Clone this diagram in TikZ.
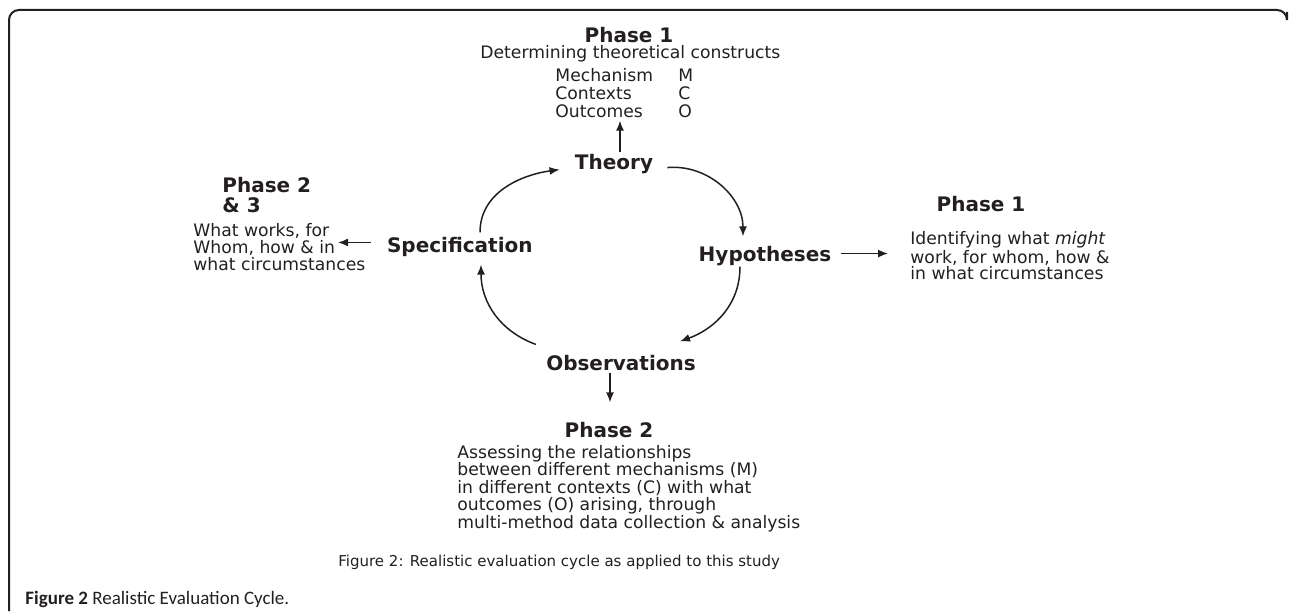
\documentclass[tikz,border=0pt]{standalone}
\usepackage{fontspec}
\setmainfont{DejaVu Sans}
\newfontfamily\capfont{Carlito}
\definecolor{inkgrey}{HTML}{231F20}
\usetikzlibrary{arrows.meta, positioning, calc}

\tikzset{
  phasehead/.style = {font = \fontsize{10}{10}\selectfont\bfseries, text = inkgrey, inner sep = 0pt},
  cyclenode/.style = {font = \fontsize{10}{12}\selectfont\bfseries, text = inkgrey, inner sep = 1pt},
  bodytext/.style = {font = \fontsize{8.6}{9}\selectfont, text = inkgrey, align = left, inner sep = 0pt},
  arr/.style = {-{Latex[length=5pt, width=4pt]}, line width = 0.75pt, draw = inkgrey},
}

\begin{document}
\begin{tikzpicture}[x = 0.5pt, y = 0.5pt]
\useasboundingbox (0,0) rectangle (1290,611);
\draw[line width = 1pt, rounded corners = 5pt, inkgrey] (9,0) -- (9,601) -- (1287,601) -- (1287,599);

\node[phasehead, anchor = base] (ph1top) at (629,568) {Phase 1};
\node[bodytext, anchor = base west] (constructs) at (480,552) {Determining theoretical constructs};
\node[bodytext, anchor = base west] (mcoterms) at (555,493) {Mechanism \\ Contexts \\ Outcomes};
\node[bodytext, anchor = base west] (mcoletters) at (678,493) {M \\ C \\ O};

\node[cyclenode, anchor = base] (theory) at (614,441) {Theory};
\node[cyclenode, anchor = base east] (spec) at (535,358) {Specification};
\node[cyclenode, anchor = base] (hyp) at (765,349) {Hypotheses};
\node[cyclenode, anchor = base] (obs) at (621,241) {Observations};

\node[phasehead, anchor = base west, align = left] (ph23) at (222,398) {Phase 2 \\ \& 3};
\node[bodytext, anchor = base west, font = \fontsize{8.6}{8.5}\selectfont] (whatworks) at (193,340) {What works, for \\ Whom, how \& in \\ what circumstances};
\coordinate (wwtip) at ($(whatworks.north west)+(145,0)$);

\node[phasehead, anchor = base] (ph1right) at (981,399) {Phase 1};
\node[bodytext, anchor = base west, font = \fontsize{8.6}{8.25}\selectfont] (ident) at (910,331) {Identifying what \textit{might} \\ work, for whom, how \& \\ in what circumstances};

\node[phasehead, anchor = base] (ph2) at (609,174) {Phase 2};
\node[bodytext, anchor = base west, font = \fontsize{8.6}{8.75}\selectfont] (assess) at (457,83) {Assessing the relationships \\ between different mechanisms (M) \\ in different contexts (C) with what \\ outcomes (O) arising, through \\ multi-method data collection \& analysis};

\node[font = \fontsize{7.5}{9}\selectfont, text = inkgrey, anchor = base west, inner sep = 0pt] (figline) at (338,45) {Figure 2: Realistic evaluation cycle as applied to this study};
\node[font = \capfont\fontsize{9.5}{11}\selectfont, text = inkgrey, anchor = base west, inner sep = 0pt] (caption) at (25,7) {\textbf{Figure 2} Realistic Evaluation Cycle.};

\draw[arr, shorten >= 1pt] ([xshift = 3pt]theory.north) -- ([xshift = 3pt]theory.north |- mcoterms.south);
\draw[arr] ([xshift = 6pt, yshift = -1.5pt]theory.east) to[out = 5, in = 90] ([xshift = -11pt, yshift = 4pt]hyp.north);
\draw[arr] ([xshift = -12.5pt, yshift = 1pt]hyp.south) to[out = -90, in = 20] ([xshift = 29.5pt, yshift = 5.5pt]obs.north);
\draw[arr] ([xshift = -4pt, yshift = 4pt]obs.north west) to[out = 160, in = -90] ([xshift = -27pt, yshift = -2.5pt]spec.south east);
\draw[arr] ([xshift = -27.5pt, yshift = 1.5pt]spec.north east) to[out = 90, in = 188] ([xshift = -6.5pt, yshift = -2.5pt]theory.west);
\draw[arr, shorten <= 7pt] ([yshift = 2.5pt]spec.west) -- ([yshift = 2.5pt]spec.west -| wwtip);
\draw[arr, shorten <= 3.5pt, shorten >= 11pt] ([yshift = 1.5pt]hyp.east) -- ([yshift = 1.5pt]hyp.east -| ident.west);
\draw[arr, shorten >= 9.5pt] ([xshift = -5.5pt]obs.south) -- ([xshift = -5.5pt]obs.south |- ph2.north);
\end{tikzpicture}
\end{document}
